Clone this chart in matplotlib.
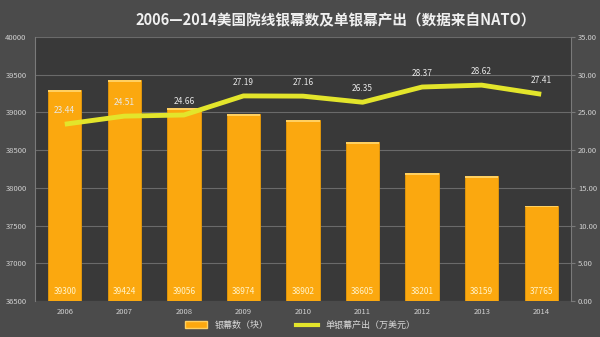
import matplotlib
matplotlib.use("Agg")
import matplotlib.pyplot as plt
from matplotlib.patches import Patch
from matplotlib.lines import Line2D

plt.rcParams['font.family'] = ['Noto Sans CJK SC', 'DejaVu Sans']

years = ['2006', '2007', '2008', '2009', '2010', '2011', '2012', '2013', '2014']
screens = [39300, 39424, 39056, 38974, 38902, 38605, 38201, 38159, 37765]
output = [23.44, 24.51, 24.66, 27.19, 27.16, 26.35, 28.37, 28.62, 27.41]

fig = plt.figure(figsize=(6, 3.37), dpi=100, facecolor='#4b4b4b')
ax = fig.add_axes([35/600, 1-301/337, 536/600, 264/337])
ax.set_facecolor('#393939')
x = list(range(len(years)))
ax.bar(x, [s - 36500 for s in screens], bottom=36500, width=0.56,
       color='#FBA80F', edgecolor='#E89A08', linewidth=0.6, zorder=3)
ax.set_ylim(36500, 40000)
ax.set_xlim(-0.5, 8.5)
ax.set_yticks(range(36500, 40001, 500))
ax.grid(axis='y', color='#6a6a6a', linewidth=0.8, zorder=0)
ax.set_xticks(x)
ax.set_xticklabels(years)
for i, s in enumerate(screens):
    ax.text(i, 36560, str(s), ha='center', va='bottom', fontsize=6, color='#FFF3C8', zorder=5)
    ax.bar(i, 25, bottom=screens[i]-25, width=0.56, color='#FFD060', zorder=4)

ax2 = ax.twinx()
ax2.plot(x, output, color='#E3E52B', linewidth=3.5, zorder=6, solid_capstyle='butt')
ax2.set_ylim(0, 35)
ticks2 = [0, 5, 10, 15, 20, 25, 30, 35]
ax2.set_yticks(ticks2)
ax2.set_yticklabels([f'{v:.2f}' for v in ticks2])
for i, v in enumerate(output):
    ax2.text(i, v + 1.2, f'{v:.2f}', ha='center', va='bottom', fontsize=6, color='#E8E8E8', zorder=7)

for a in (ax, ax2):
    for sp in a.spines.values():
        sp.set_visible(False)
    a.tick_params(colors='#d0d0d0', labelsize=5.5, length=0)
ax.spines['left'].set_visible(True)
ax.spines['left'].set_color('#7a7a7a')
ax2.spines['right'].set_visible(True)
ax2.spines['right'].set_color('#7a7a7a')
ax.tick_params(axis='y', pad=6)
ax2.tick_params(axis='y', pad=2, length=3, color='#7a7a7a')
ax.tick_params(axis='x', pad=5)

fig.text(0.56, 0.94, '2006—2014美国院线银幕数及单银幕产出（数据来自NATO）', ha='center', va='center',
         fontsize=10.5, fontweight='bold', color='#f0f0f0')

handles = [Patch(facecolor='#FBA80F', edgecolor='#FFD060'),
           Line2D([0], [0], color='#E3E52B', linewidth=3)]
fig.legend(handles, ['银幕数（块）', '单银幕产出（万美元）'], loc='center', bbox_to_anchor=(0.5, 0.035),
           ncol=2, frameon=False, fontsize=6.5, labelcolor='#d8d8d8', handlelength=2.5, columnspacing=3)

fig.savefig('out.png', dpi=100, facecolor=fig.get_facecolor())
